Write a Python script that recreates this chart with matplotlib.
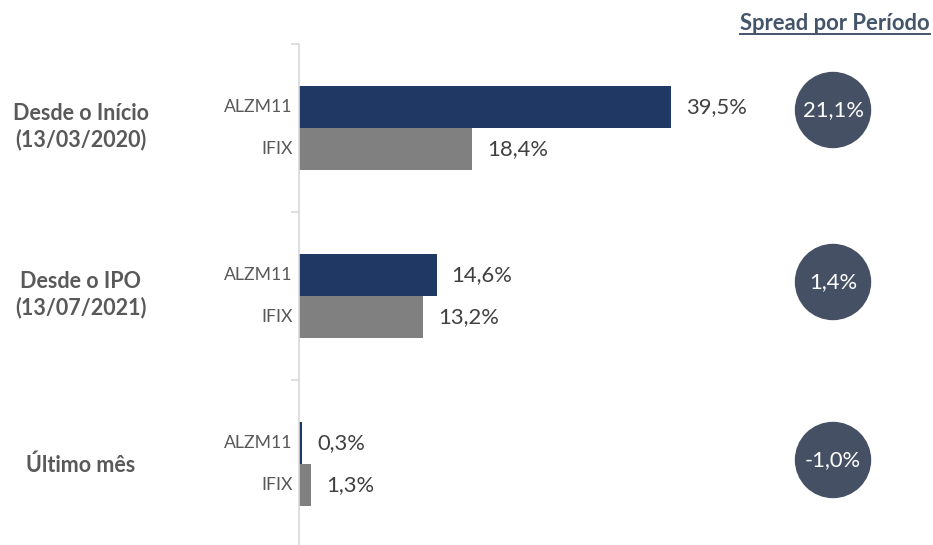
import matplotlib.pyplot as plt
from matplotlib.patches import Circle

# dados
periodos = ['Desde o Início\n(13/03/2020)', 'Desde o IPO\n(13/07/2021)', 'Último mês']
series = ['ALZM11', 'IFIX']
alzm11 = [39.5, 14.6, 0.3]
ifix = [18.4, 13.2, 1.3]
spread = ['21,1%', '1,4%', '-1,0%']

plt.rcParams['font.family'] = ['Lato', 'DejaVu Sans']

fig = plt.figure(figsize=(9.33, 5.45), dpi=100)

# eixo das barras: começa no x=299 px, topo em 44 px
ax = fig.add_axes([299 / 933, 0, 1 - 299 / 933, 1 - 44 / 545])
h = 0.25
pos = list(range(len(periodos)))
ax.barh([p - h / 2 for p in pos], alzm11, height=h, color='#1f3864')
ax.barh([p + h / 2 for p in pos], ifix, height=h, color='#808080')

for p, a, b in zip(pos, alzm11, ifix):
    ax.text(a + 1.6, p - h / 2, f'{a:.1f}%'.replace('.', ','), va='center', ha='left',
            fontsize=15.8, color='#404040')
    ax.text(b + 1.6, p + h / 2, f'{b:.1f}%'.replace('.', ','), va='center', ha='left',
            fontsize=15.8, color='#404040')
    ax.text(-0.7, p - h / 2, series[0], va='center', ha='right', fontsize=12.7, color='#595959')
    ax.text(-0.7, p + h / 2, series[1], va='center', ha='right', fontsize=12.7, color='#595959')

ax.set_xlim(0, (933 - 299) / 9.42)
ax.set_ylim(-0.5 + 501 / 168, -0.5)
ax.set_yticks([-0.5, 0.5, 1.5])
ax.set_yticklabels([])
ax.tick_params(axis='y', length=6, color='#d9d9d9', width=1.2)
ax.set_xticks([])
for s in ['top', 'right', 'bottom']:
    ax.spines[s].set_visible(False)
ax.spines['left'].set_color('#d9d9d9')
ax.spines['left'].set_linewidth(1.2)
ax.patch.set_alpha(0)

# camada em pixels para rótulos, círculos e título
ov = fig.add_axes([0, 0, 1, 1])
ov.set_xlim(0, 933)
ov.set_ylim(545, 0)
ov.axis('off')
ov.patch.set_alpha(0)

centros = [127, 295, 465]
circ_y = [110, 282, 460]
for c, lab in zip(centros, periodos):
    ov.text(81, c, lab, ha='center', va='center', fontsize=15.5, fontweight='bold',
            color='#595959', linespacing=1.25)
for cy, s in zip(circ_y, spread):
    ov.add_patch(Circle((833, cy), 37.5, color='#465065', zorder=3))
    ov.text(833, cy, s, ha='center', va='center', fontsize=15.8, color='white', zorder=4)

ov.text(930, 23, 'Spread por Período', ha='right', va='center', fontsize=15.8,
        fontweight='bold', color='#44546a')
ov.plot([740, 930], [34, 34], color='#44546a', lw=1.4)

fig.savefig('out.png', dpi=100)
